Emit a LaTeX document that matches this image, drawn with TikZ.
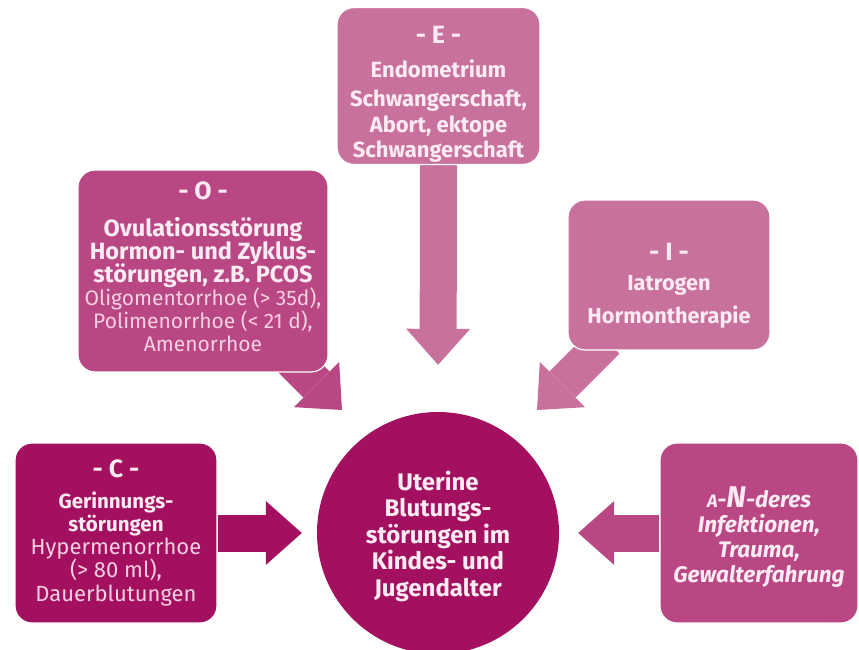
\documentclass[tikz,border=0pt]{standalone}
\usepackage{fontspec}
\setmainfont{Fira Sans}
\usetikzlibrary{calc}
\usetikzlibrary{arrows.meta, backgrounds}

\definecolor{cdark}{HTML}{A3105F}
\definecolor{cmid}{HTML}{B84784}
\definecolor{clight}{HTML}{C8719D}
\definecolor{tbold}{HTML}{FDEBF4}
\definecolor{tplain}{HTML}{F7D0E2}

% title line of a category: [gap below]{strut height}{text}
\newcommand{\cattitle}[3][8pt]{{\fontsize{25}{26}\selectfont\rule{0pt}{#2}#3}\\[#1]}
\newcommand{\catplain}[2][22]{{\mdseries\fontsize{#1}{10}\selectfont\color{tplain}#2}}
\newcommand{\catfont}[2]{\fontsize{#1}{#2}\selectfont\bfseries\lineskiplimit=-30pt}

\begin{document}
\begin{tikzpicture}[x=1pt,y=-1pt,
	catbox/.style={
		rectangle,
		rounded corners=17pt,
		draw=white,
		line width=1.2pt,
		align=center,
		text=tbold,
		inner sep=2pt,
	},
	fatarrow/.style={line width=37pt,
		-{Triangle[width=64pt,length=36pt,line width=0pt]}},
]
	\useasboundingbox (0,0) rectangle (859,650);
	\clip (0,0) rectangle (859,650);
	% centre
	\node[circle, fill=cdark, minimum size=242pt, align=center, text=tbold,
		font=\catfont{24}{26.5}] (uter) at (438,533)
		{\rule{0pt}{26pt}Uterine\\Blutungs-\\störungen im\\Kindes- und\\Jugendalter};
	% categories
	\node[catbox, fill=clight, minimum width=203pt, minimum height=153pt,
		font=\catfont{22}{25.5}]
		(endo) at (438.5,86)
		{\cattitle[8pt]{34pt}{- E -}Endometrium\\[4pt]Schwangerschaft,\\Abort, ektope\\Schwangerschaft};
	\node[catbox, fill=cmid, minimum width=250pt, minimum height=202pt,
		font=\catfont{23.5}{23}]
		(ovul) at (203,271)
		{\cattitle[14pt]{0pt}{- O -}Ovulationsstörung\\Hormon- und Zyklus-\\störungen, z.B. PCOS\\
		\catplain[21]{Oligomentorrhoe (> 35d),}\\\catplain[21]{Polimenorrhoe (< 21 d),}\\
		\catplain[21]{Amenorrhoe}\rule[-9pt]{0pt}{9pt}};
	\node[catbox, fill=clight, minimum width=202pt, minimum height=150pt,
		font=\catfont{21.7}{26}]
		(iatr) at (669,275)
		{\cattitle[4pt]{38pt}{- I -}Iatrogen\\[7pt]Hormontherapie};
	\node[catbox, fill=cdark, minimum width=202pt, minimum height=180pt,
		font=\catfont{20.5}{23.3}]
		(coag) at (116,533)
		{\cattitle[7pt]{0pt}{- C -}Gerinnungs-\\störungen\\\catplain{Hypermenorrhoe}\\
		\catplain{(> 80 ml),}\\\catplain{Dauerblutungen}};
	\node[catbox, fill=cmid, minimum width=198pt, minimum height=180pt,
		font=\catfont{22.5}{25}\itshape]
		(ander) at (759,533)
		{\rule{0pt}{29pt}{\fontsize{18}{25}\selectfont A}-{\fontsize{30}{25}\selectfont N}-deres\\
		Infektionen,\\Trauma,\\Gewalterfahrung};
	% arrows
	\coordinate (ovtail) at ($(ovul.south east)+(-46,-22)$);
	\coordinate (ovtip) at ($(uter.center)+(-96,-123)$);
	\coordinate (iatail) at ($(iatr.south west)+(39,-10)$);
	\coordinate (iatip) at ($(uter.center)+(99,-123)$);
	\begin{scope}[on background layer]
		\draw[fatarrow, clight, shorten >=47pt] (endo.south) -- (uter.north);
		\draw[fatarrow, cmid] (ovtail) -- (ovtip);
		\draw[fatarrow, clight] (iatail) -- (iatip);
		\draw[fatarrow, cdark, shorten >=15pt] (coag.east) -- (uter.west);
		\draw[fatarrow, cmid, shorten >=19pt] (ander.west) -- (uter.east);
	\end{scope}
\end{tikzpicture}
\end{document}
